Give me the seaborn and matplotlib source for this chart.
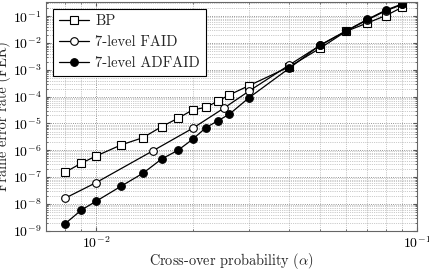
import numpy as np
import pandas as pd
import seaborn as sns
import matplotlib
matplotlib.use("Agg")
import matplotlib.pyplot as plt
from matplotlib.ticker import LogLocator

# values
bp_x = [0.008, 0.009, 0.01, 0.012, 0.014, 0.016, 0.018, 0.02, 0.022, 0.024,
        0.026, 0.03, 0.04, 0.05, 0.06, 0.07, 0.08, 0.09]
bp_y = [1.5e-7, 3.3e-7, 6.1e-7, 1.6e-6, 2.95e-6, 7.6e-6, 1.56e-5, 3.2e-5, 4.0e-5,
        6.9e-5, 1.16e-4, 2.6e-4, 1.3e-3, 6.5e-3, 2.7e-2, 5.6e-2, 0.106, 0.217]

faid_x = [0.008, 0.01, 0.015, 0.02, 0.025, 0.03, 0.04, 0.05, 0.06, 0.07, 0.08, 0.09]
faid_y = [1.62e-8, 6.2e-8, 9.4e-7, 6.6e-6, 3.7e-5, 1.63e-4, 1.52e-3, 8.3e-3,
          2.75e-2, 7.3e-2, 0.16, 0.275]

adfaid_x = bp_x
adfaid_y = [1.8e-9, 5.9e-9, 1.25e-8, 4.65e-8, 1.39e-7, 4.7e-7, 1.0e-6, 2.57e-6,
            7.0e-6, 1.27e-5, 2.2e-5, 9.2e-5, 1.15e-3, 8.5e-3, 2.8e-2, 7.6e-2, 0.17, 0.288]

sns.set_style("ticks")
plt.rcParams['font.family'] = 'serif'
plt.rcParams['font.serif'] = ['cmr10']
plt.rcParams['mathtext.fontset'] = 'cm'
plt.rcParams['axes.formatter.use_mathtext'] = True
plt.rcParams['font.size'] = 10

fig = plt.figure(figsize=(4.29, 2.70), dpi=100)
ax = fig.add_axes([0.108, 0.1456, 0.864, 0.847])

series = [
    ("BP", bp_x, bp_y, "s", "white"),
    ("7-level FAID", faid_x, faid_y, "o", "white"),
    ("7-level ADFAID", adfaid_x, adfaid_y, "o", "black"),
]
for name, xs, ys, mk, fc in series:
    df = pd.DataFrame({"x": xs, "y": ys})
    sns.lineplot(data=df, x="x", y="y", ax=ax, color="black", lw=0.9,
                 marker=mk, markersize=5.5, markerfacecolor=fc,
                 markeredgecolor="black", markeredgewidth=0.8, label=name)

ax.set_xscale("log")
ax.set_yscale("log")
ax.set_xlim(0.007, 0.1)
ax.set_ylim(1e-9, 0.34)
ax.yaxis.set_major_locator(LogLocator(base=10, numticks=20))
ax.yaxis.set_minor_locator(LogLocator(base=10, subs=np.arange(2, 10), numticks=20))
ax.grid(which="major", ls=":", lw=0.6, color="0.45")
ax.grid(which="minor", ls=":", lw=0.5, color="0.6")
ax.tick_params(which="both", direction="in", top=True, right=True, colors="0.35",
               labelcolor="black", labelsize=10)
ax.tick_params(which="major", length=3)
ax.tick_params(which="minor", length=1.5)
ax.set_yticks([1e-9, 1e-8, 1e-7, 1e-6, 1e-5, 1e-4, 1e-3, 1e-2, 1e-1])
for sp in ax.spines.values():
    sp.set_color("0.4")
    sp.set_linewidth(0.8)

ax.set_xlabel(r"Cross-over probability ($\alpha$)", fontsize=10.3, labelpad=0)
ax.set_ylabel("Frame error rate (FER)", fontsize=10.3, labelpad=1)

leg = ax.legend(loc="upper left", fancybox=False, framealpha=1, edgecolor="black",
                fontsize=10.5, handlelength=2.1, borderaxespad=0.45, labelspacing=0.5,
                handletextpad=0.4, borderpad=0.4)
leg.get_frame().set_linewidth(0.8)

fig.savefig("out.png", dpi=100)
